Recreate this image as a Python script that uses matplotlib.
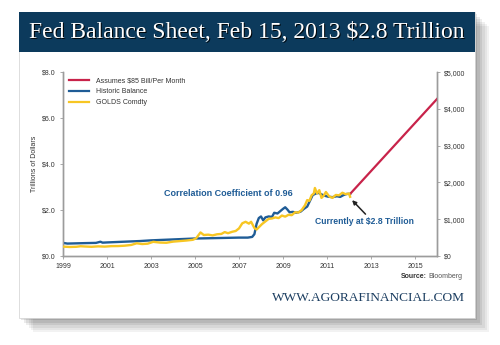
import matplotlib
matplotlib.use('Agg')
import matplotlib.pyplot as plt
from matplotlib import font_manager
from matplotlib.patches import Rectangle
from matplotlib.lines import Line2D
from matplotlib.ticker import FuncFormatter

# Fed balance sheet, trillions of dollars
fed_years = [1999.0, 1999.2, 1999.6, 2000.0, 2000.5, 2000.7, 2000.8, 2001.0, 2001.5,
             2002.0, 2002.5, 2003.0, 2003.5, 2004.0, 2004.5, 2005.0, 2005.5, 2006.0,
             2006.5, 2007.0, 2007.4, 2007.6, 2007.7, 2007.8, 2007.9, 2008.0, 2008.1,
             2008.2, 2008.35, 2008.5, 2008.6, 2008.75, 2008.9, 2009.0, 2009.1, 2009.2,
             2009.3, 2009.45, 2009.6, 2009.8, 2009.95, 2010.1, 2010.25, 2010.35, 2010.5,
             2010.6, 2010.75, 2010.9, 2011.05, 2011.25, 2011.45, 2011.6, 2011.75, 2011.9,
             2012.05]
fed_balance = [0.57, 0.54, 0.55, 0.56, 0.57, 0.62, 0.58, 0.59, 0.61,
               0.63, 0.65, 0.68, 0.70, 0.72, 0.74, 0.76, 0.77, 0.78,
               0.79, 0.80, 0.80, 0.83, 0.95, 1.40, 1.65, 1.72, 1.55,
               1.68, 1.72, 1.70, 1.88, 1.85, 1.97, 2.05, 2.12, 2.02,
               1.90, 1.92, 1.88, 1.93, 2.05, 2.15, 2.45, 2.65, 2.72,
               2.75, 2.68, 2.62, 2.58, 2.56, 2.60, 2.57, 2.65, 2.70,
               2.70]

# Gold price, dollars per ounce (right axis)
gold_years = [1999.0, 1999.3, 1999.6, 1999.8, 2000.0, 2000.3, 2000.6, 2000.9, 2001.2,
              2001.5, 2001.8, 2002.1, 2002.35, 2002.6, 2002.85, 2003.1, 2003.4, 2003.7,
              2004.0, 2004.3, 2004.6, 2004.9, 2005.05, 2005.25, 2005.4, 2005.6, 2005.8,
              2006.0, 2006.2, 2006.35, 2006.5, 2006.7, 2006.85, 2007.0, 2007.15, 2007.3,
              2007.45, 2007.55, 2007.7, 2007.8, 2007.9, 2008.05, 2008.2, 2008.35, 2008.5,
              2008.65, 2008.8, 2008.95, 2009.1, 2009.25, 2009.4, 2009.55, 2009.7, 2009.85,
              2010.0, 2010.1, 2010.2, 2010.3, 2010.4, 2010.45, 2010.55, 2010.65, 2010.75,
              2010.85, 2010.95, 2011.1, 2011.25, 2011.4, 2011.55, 2011.7, 2011.85, 2012.0,
              2012.05]
gold_price = [255, 245, 250, 265, 258, 250, 262, 255, 268,
              270, 280, 300, 345, 325, 335, 385, 365, 360,
              390, 405, 420, 440, 480, 640, 570, 580, 560,
              590, 600, 650, 620, 660, 680, 750, 890, 930,
              880, 930, 760, 720, 780, 870, 940, 1010, 1020,
              1050, 1030, 1100, 1070, 1120, 1110, 1190, 1180, 1250,
              1380, 1520, 1500, 1650, 1700, 1850, 1700, 1790, 1580,
              1640, 1740, 1620, 1580, 1660, 1650, 1720, 1680, 1700,
              1610]

# projection at $85 bn per month
proj_years = [2012.05, 2016.0]
proj_balance = [2.70, 6.83]

left_ticks = [0, 2, 4, 6, 8]
right_ticks = [0, 1000, 2000, 3000, 4000, 5000]
year_ticks = [1999, 2001, 2003, 2005, 2007, 2009, 2011, 2013, 2015]

names = {f.name for f in font_manager.fontManager.ttflist}
sans = 'Liberation Sans Narrow' if 'Liberation Sans Narrow' in names else 'Liberation Sans'
serif = 'Liberation Serif'

BLUE = '#1f5c96'
GOLD = '#f7c623'
RED = '#c8234a'
NAVY = '#0c3a5c'
GREY = '#9c9c9c'
TXT = '#333333'

fig = plt.figure(figsize=(5.0, 3.45), dpi=100)
fig.patch.set_facecolor('white')

# card with soft shadow
for i, a in enumerate([0.05, 0.05, 0.06, 0.07, 0.08, 0.10]):
    off = (6 - i) * 2.4
    fig.patches.append(Rectangle((0.038 + off / 500, 0.078 - off / 345), 0.912, 0.887,
                                 transform=fig.transFigure, facecolor='black',
                                 alpha=a, edgecolor='none', zorder=0))
fig.patches.append(Rectangle((0.038, 0.078), 0.912, 0.887, transform=fig.transFigure,
                             facecolor='white', edgecolor='#d0d0d0', linewidth=0.5, zorder=1))
fig.patches.append(Rectangle((0.038, 0.849), 0.912, 0.116, transform=fig.transFigure,
                             facecolor=NAVY, edgecolor='none', zorder=2))

title = 'Fed Balance Sheet, Feb 15, 2013 $2.8 Trillion'
fig.text(0.4965, 0.9015, title, ha='center', va='center', fontsize=17, family=serif,
         color='black', alpha=0.9, zorder=3)
fig.text(0.494, 0.905, title, ha='center', va='center', fontsize=17, family=serif,
         color='white', zorder=4)

ax = fig.add_axes([0.126, 0.258, 0.748, 0.533])
ax.set_zorder(5)
ax.patch.set_visible(False)
ax2 = ax.twinx()
ax2.set_zorder(6)

ax.plot(fed_years, fed_balance, color=BLUE, lw=1.7, zorder=3)
ax2.plot(gold_years, gold_price, color=GOLD, lw=1.7, zorder=4)
ax.plot(proj_years, proj_balance, color=RED, lw=1.6, zorder=3)

ax.set_xlim(1999, 2016)
ax.set_ylim(0, 8)
ax2.set_ylim(0, 5000)
ax.set_xticks(year_ticks)
ax.set_yticks(left_ticks)
ax2.set_yticks(right_ticks)
ax.yaxis.set_major_formatter(FuncFormatter(lambda v, p: f'${v:.1f}'))
ax2.yaxis.set_major_formatter(FuncFormatter(lambda v, p: f'${v:,.0f}'))

for a in (ax, ax2):
    a.spines['top'].set_visible(False)
    for s in ('left', 'right', 'bottom'):
        a.spines[s].set_color(GREY)
        a.spines[s].set_linewidth(1.0)
    a.tick_params(length=2, width=0.6, color=GREY, labelcolor=TXT, labelsize=5, pad=3)
    for lab in a.get_xticklabels() + a.get_yticklabels():
        lab.set_family(sans)

ax.set_ylabel('Trillions of Dollars', fontsize=5, family=sans, color=TXT, labelpad=3)

handles = [Line2D([0], [0], color=RED, lw=1.6),
           Line2D([0], [0], color=BLUE, lw=1.6),
           Line2D([0], [0], color=GOLD, lw=1.6)]
ax.legend(handles, ['Assumes $85 Bill/Per Month', 'Historic Balance', 'GOLDS Comdty'],
          loc='upper left', bbox_to_anchor=(0.0, 1.0), frameon=False,
          prop={'family': sans, 'size': 5}, handlelength=3.0, labelspacing=0.55,
          handletextpad=0.9, borderaxespad=0.4)
for t in ax.get_legend().get_texts():
    t.set_color(TXT)

ax.text(2003.6, 2.7, 'Correlation Coefficient of 0.96', color=BLUE, fontsize=6.5,
        family=sans, weight='bold', ha='left', va='center')
ax.annotate('', xy=(2012.14, 2.43), xytext=(2012.75, 1.82),
            arrowprops=dict(arrowstyle='-|>', color='#222222', lw=1.1,
                            mutation_scale=6, shrinkA=0, shrinkB=0))
ax.text(2010.45, 1.48, 'Currently at $2.8 Trillion', color=BLUE, fontsize=6.2,
        family=sans, weight='bold', ha='left', va='center')

fig.text(0.853, 0.2, 'Source:', ha='right', va='center', fontsize=5, family=sans,
         weight='bold', color=TXT, zorder=6)
fig.text(0.924, 0.2, 'Bloomberg', ha='right', va='center', fontsize=5, family=sans,
         color='#555555', zorder=6)
fig.text(0.93, 0.137, 'WWW.AGORAFINANCIAL.COM', ha='right', va='center', fontsize=9.6,
         family=serif, color='#1b3d60', zorder=6)

fig.savefig('out.png', dpi=100)
